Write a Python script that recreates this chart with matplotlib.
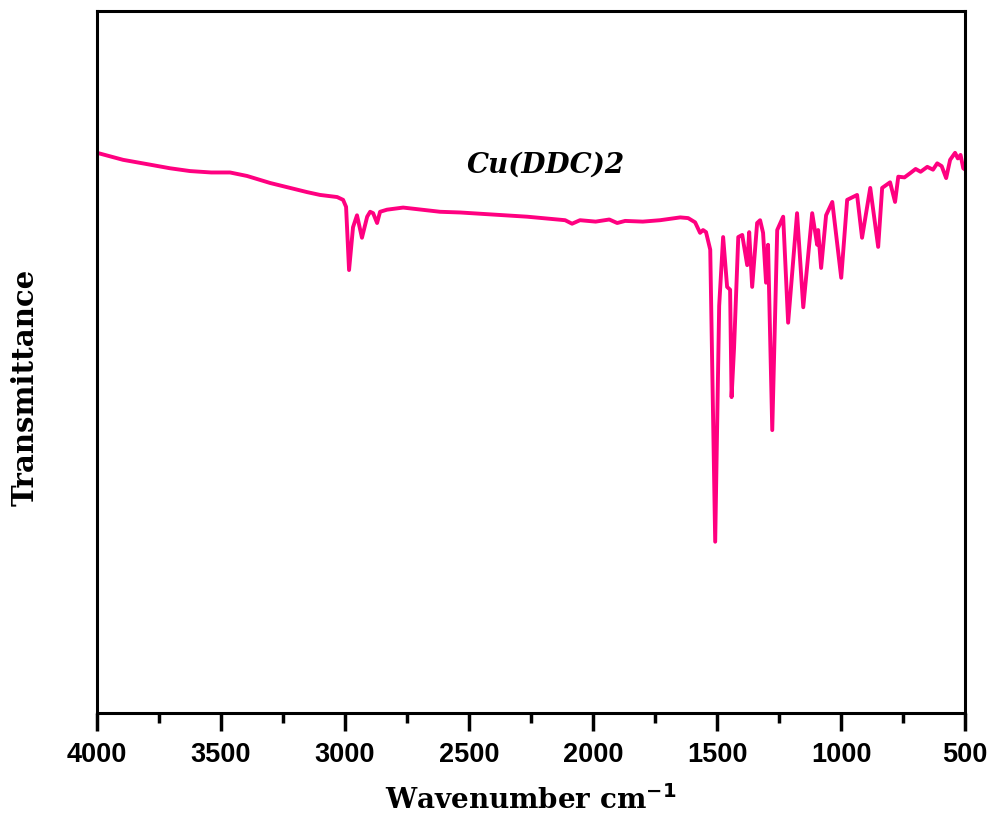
import matplotlib
matplotlib.use("Agg")
import matplotlib.pyplot as plt
from matplotlib.ticker import MultipleLocator

# FTIR spectrum of Cu(DDC)2 (arbitrary transmittance units)
wavenumber = [4000, 3895, 3800, 3706, 3625, 3540, 3464, 3395, 3302, 3153, 3101, 3032,
              3008, 2996, 2984, 2968, 2952, 2932, 2911, 2899, 2887, 2871,
              2859, 2831, 2766, 2617, 2536, 2266, 2113, 2085, 2053, 1990,
              1935, 1903, 1871, 1800, 1730, 1649, 1617, 1589, 1569, 1557,
              1545, 1528, 1508, 1492, 1476, 1460, 1448, 1442, 1432, 1415,
              1399, 1379, 1371, 1359, 1339, 1327, 1315, 1303, 1295, 1278,
              1258, 1234, 1214, 1178, 1153, 1117, 1097, 1093, 1081, 1061,
              1036, 1000, 976, 936, 916, 883, 851, 835, 803, 783,
              770, 745, 722, 700, 680, 653, 630, 613, 595, 577,
              561, 541, 530, 519, 508, 500]
transmittance = [79.8, 78.8, 78.2, 77.6, 77.2, 77.0, 77.0, 76.5, 75.5, 74.2, 73.8, 73.5,
                 73.1, 72.1, 63.1, 69.2, 70.9, 67.7, 70.7, 71.4, 71.2, 69.8,
                 71.4, 71.7, 72.0, 71.4, 71.3, 70.7, 70.2, 69.7, 70.2, 70.0,
                 70.3, 69.8, 70.1, 70.0, 70.2, 70.6, 70.5, 69.9, 68.4, 68.8,
                 68.5, 66.0, 24.4, 58.0, 67.8, 60.7, 60.3, 45.0, 52.0, 67.8,
                 68.1, 63.8, 68.5, 60.7, 69.8, 70.2, 68.4, 61.3, 66.7, 40.3,
                 68.8, 70.7, 55.6, 71.2, 57.8, 71.2, 66.7, 68.8, 63.4, 70.9,
                 72.8, 62.0, 73.1, 73.8, 67.7, 74.8, 66.4, 74.8, 75.6, 72.8,
                 76.4, 76.3, 76.9, 77.5, 77.1, 77.8, 77.4, 78.3, 77.9, 76.2,
                 78.8, 79.8, 79.0, 79.5, 77.6, 77.4]

sample_name = "Cu(DDC)2"

fig = plt.figure(figsize=(9.9, 8.22), dpi=100)
ax = fig.add_axes([0.098, 0.1326, 0.877, 0.854])

ax.plot(wavenumber, transmittance, color="#ff0080", linewidth=2.8)

ax.set_xlim(4000, 500)
ax.set_ylim(0, 100)
ax.xaxis.set_major_locator(MultipleLocator(500))
ax.xaxis.set_minor_locator(MultipleLocator(250))
ax.tick_params(axis="x", which="major", direction="out", length=13, width=2.5,
               pad=8, labelsize=19.5, top=False)
ax.tick_params(axis="x", which="minor", direction="out", length=7, width=2.5, top=False)
ax.set_yticks([])
for lbl in ax.get_xticklabels():
    lbl.set_fontfamily("Liberation Sans")
    lbl.set_fontweight("bold")

for sp in ax.spines.values():
    sp.set_linewidth(2.2)

ax.set_xlabel("Wavenumber cm$^{\\mathbf{-1}}$", fontsize=20, fontweight="bold",
              family="DejaVu Serif", labelpad=12)
ax.set_ylabel("Transmittance", fontsize=21, fontweight="bold",
              family="DejaVu Serif")
ax.yaxis.set_label_coords(-0.066, 0.464)

ax.text(2190, 78, sample_name, fontsize=20, fontweight="bold", fontstyle="italic",
        family="DejaVu Serif", ha="center", va="center")

fig.savefig("out.png", dpi=100)
